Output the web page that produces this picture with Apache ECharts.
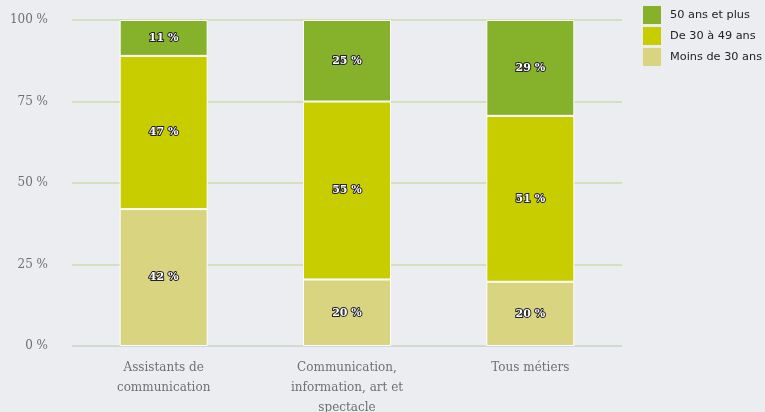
<!DOCTYPE html>
<html><head><meta charset="utf-8">
<script src="https://cdn.jsdelivr.net/npm/echarts@6/dist/echarts.min.js"></script>
<style>html,body{margin:0;padding:0;background:#ecedf0;}#c{width:765px;height:412px;}</style>
</head><body><div id="c"></div>
<script>
const categories = ['Assistants de\ncommunication', 'Communication,\ninformation, art et\nspectacle', 'Tous métiers'];
const moins30 = [42, 20.4, 19.7];
const de30a49 = [47, 54.6, 50.9];
const plus50 = [11, 25, 29.4];
const yTicks = [0, 25, 50, 75, 100];

const chart = echarts.init(document.getElementById('c'));
const lbl = {
  show: true, position: 'inside',
  formatter: p => Math.round(p.value) + ' %',
  fontFamily: 'DejaVu Serif', fontWeight: 'bold', fontSize: 11,
  color: '#ffffff', textBorderColor: '#222', textBorderWidth: 2
};
function s(name, data, color) {
  return { name, type: 'bar', stack: 'a', data, barWidth: 88,
    itemStyle: { color, borderColor: '#ffffff', borderWidth: 1 },
    label: lbl };
}
chart.setOption({
  backgroundColor: '#ecedf0',
  animation: false,
  grid: { left: 72, right: 143, top: 20, bottom: 66, containLabel: false, outerBoundsMode: 'none' },
  legend: {
    orient: 'vertical', left: 638, top: 1, itemWidth: 18, itemHeight: 18, itemGap: 3,
    icon: 'rect',
    itemStyle: { borderWidth: 0 },
    textStyle: { fontFamily: 'DejaVu Sans', fontSize: 11.3, color: '#222', padding: [0, 0, 0, 4] },
    data: ['50 ans et plus', 'De 30 à 49 ans', 'Moins de 30 ans']
  },
  xAxis: {
    type: 'category', data: categories,
    axisLine: { lineStyle: { color: '#ccd6eb' } }, axisTick: { show: false },
    axisLabel: { fontFamily: 'DejaVu Serif', fontSize: 12, color: '#707070', lineHeight: 20, margin: 12 }
  },
  yAxis: {
    type: 'value', min: 0, max: 100, interval: 25,
    axisLabel: { formatter: v => yTicks.includes(v) ? v + ' %' : '', fontFamily: 'DejaVu Serif', fontSize: 12, color: '#707070', margin: 24 },
    splitLine: { lineStyle: { color: '#d3e0bd', width: 2 } }
  },
  series: [
    s('Moins de 30 ans', moins30, '#d8d480'),
    s('De 30 à 49 ans', de30a49, '#c8cd00'),
    s('50 ans et plus', plus50, '#86b12a')
  ]
});
</script></body></html>
